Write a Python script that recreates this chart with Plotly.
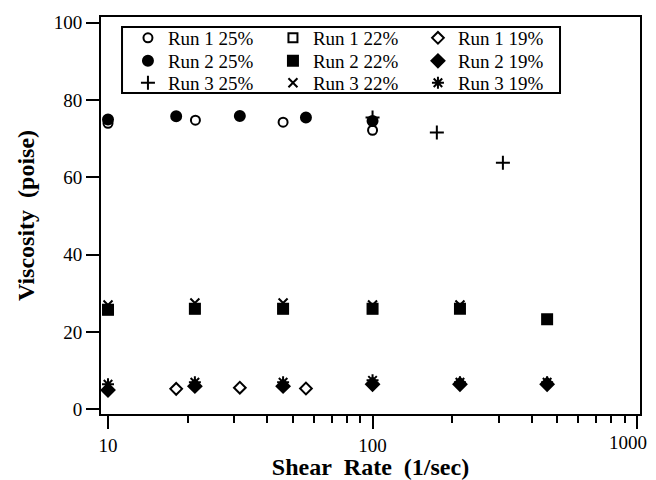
import plotly.graph_objects as go

# ---- data ----
series_names = ["Run 1 25%", "Run 1 22%", "Run 1 19%",
                "Run 2 25%", "Run 2 22%", "Run 2 19%",
                "Run 3 25%", "Run 3 22%", "Run 3 19%"]

run1_25_x = [10, 21.4, 45.9, 100]
run1_25_y = [74.0, 74.8, 74.3, 72.2]

run1_22_x = [10, 21.3, 45.9, 100]
run1_22_y = [25.8, 26.0, 26.0, 26.0]

run1_19_x = [18.1, 31.5, 56]
run1_19_y = [5.3, 5.6, 5.4]

run2_25_x = [10, 18.1, 31.5, 56, 100]
run2_25_y = [75.0, 75.8, 75.9, 75.5, 74.6]

run2_22_x = [10, 21.3, 45.9, 100, 214, 457]
run2_22_y = [25.8, 26.0, 26.0, 26.0, 26.0, 23.3]

run2_19_x = [10, 21.3, 45.9, 100, 214, 457]
run2_19_y = [5.0, 6.0, 6.0, 6.5, 6.5, 6.5]

run3_25_x = [100, 175, 311]
run3_25_y = [75.5, 71.6, 63.8]

run3_22_x = [10, 21.3, 45.9, 100, 214]
run3_22_y = [27.0, 27.5, 27.5, 27.0, 27.0]

run3_19_x = [10, 21.3, 45.9, 100, 214, 457]
run3_19_y = [6.5, 7.0, 7.0, 7.5, 7.0, 7.0]

x_tick_vals = [10, 100, 1000]
x_tick_text = ["10", "100", "1000"]
y_tick_vals = [0, 20, 40, 60, 80, 100]

xs = [run1_25_x, run1_22_x, run1_19_x, run2_25_x, run2_22_x, run2_19_x, run3_25_x, run3_22_x, run3_19_x]
ys = [run1_25_y, run1_22_y, run1_19_y, run2_25_y, run2_22_y, run2_19_y, run3_25_y, run3_22_y, run3_19_y]
symbols = ["circle-open", "square-open", "diamond-open",
           "circle", "square", "diamond",
           "cross-thin-open", "x-thin-open", "asterisk-open"]
sizes = [9, 9, 9, 10, 10, 10, 10, 9, 10]
legend_ids = ["legend", "legend", "legend",
              "legend2", "legend2", "legend2",
              "legend3", "legend3", "legend3"]

FONT = "Liberation Serif"

fig = go.Figure()
for name, x, y, sym, sz, lg in zip(series_names, xs, ys, symbols, sizes, legend_ids):
    fig.add_trace(go.Scatter(
        x=x, y=y, mode="markers", name=name, legend=lg,
        marker=dict(symbol=sym, size=sz, color="black",
                    line=dict(color="black", width=2)),
    ))

def row_legend(yc):
    return dict(
        orientation="h", x=0.05, y=yc, xanchor="left", yanchor="middle",
        borderwidth=0, bgcolor="rgba(0,0,0,0)",
        entrywidth=100, itemwidth=30,
        font=dict(family=FONT, size=19, color="black"),
    )

# The last x label sits at the page edge; draw it as an annotation nudged inward
last_val = x_tick_vals[-1]
last_txt = x_tick_text[-1]
axis_text = x_tick_text[:-1] + [""]

import math

# the page body has an 8px default margin, so the figure is sized to fill the rest
fig.update_layout(
    width=648, height=472,
    margin=dict(l=93, r=16, t=9, b=66),
    paper_bgcolor="white", plot_bgcolor="white",
    font=dict(family=FONT, size=19, color="black"),
    showlegend=True,
    legend=row_legend(0.9471),
    legend2=row_legend(0.8892),
    legend3=row_legend(0.8338),
    shapes=[dict(type="rect", xref="paper", yref="paper",
                 x0=0.039, x1=0.8516, y0=0.8086, y1=0.9748,
                 line=dict(color="black", width=2), fillcolor="white", layer="below")],
    annotations=[dict(text=last_txt, x=math.log10(last_val), xref="x", y=0, yref="paper",
                      xanchor="center", yanchor="top", xshift=-9, yshift=-16,
                      showarrow=False, font=dict(family=FONT, size=19, color="black"))],
    xaxis=dict(
        type="log", range=[0.9735, 3.011],
        tickvals=x_tick_vals, ticktext=axis_text,
        ticks="outside", ticklen=13, tickwidth=2, tickcolor="black",
        minor=dict(ticks="outside", ticklen=7, tickwidth=2, tickcolor="black",
                   dtick="D1", showgrid=False),
        showline=True, linewidth=2, linecolor="black", mirror=True,
        showgrid=False, zeroline=False, automargin=False,
        title=dict(text="<b>Shear&nbsp;&nbsp;Rate&nbsp;&nbsp;(1/sec)</b>",
                   font=dict(family=FONT, size=24), standoff=4),
        tickfont=dict(family=FONT, size=19),
    ),
    yaxis=dict(
        range=[-1.2, 101.5],
        tickvals=y_tick_vals,
        ticks="outside", ticklen=13, tickwidth=2, tickcolor="black",
        showline=True, linewidth=2, linecolor="black", mirror=True,
        showgrid=False, zeroline=False, automargin=False,
        title=dict(text="<b>Viscosity&nbsp;&nbsp;(poise)</b>",
                   font=dict(family=FONT, size=24), standoff=12),
        tickfont=dict(family=FONT, size=19),
    ),
)

fig.write_html("out.html")
